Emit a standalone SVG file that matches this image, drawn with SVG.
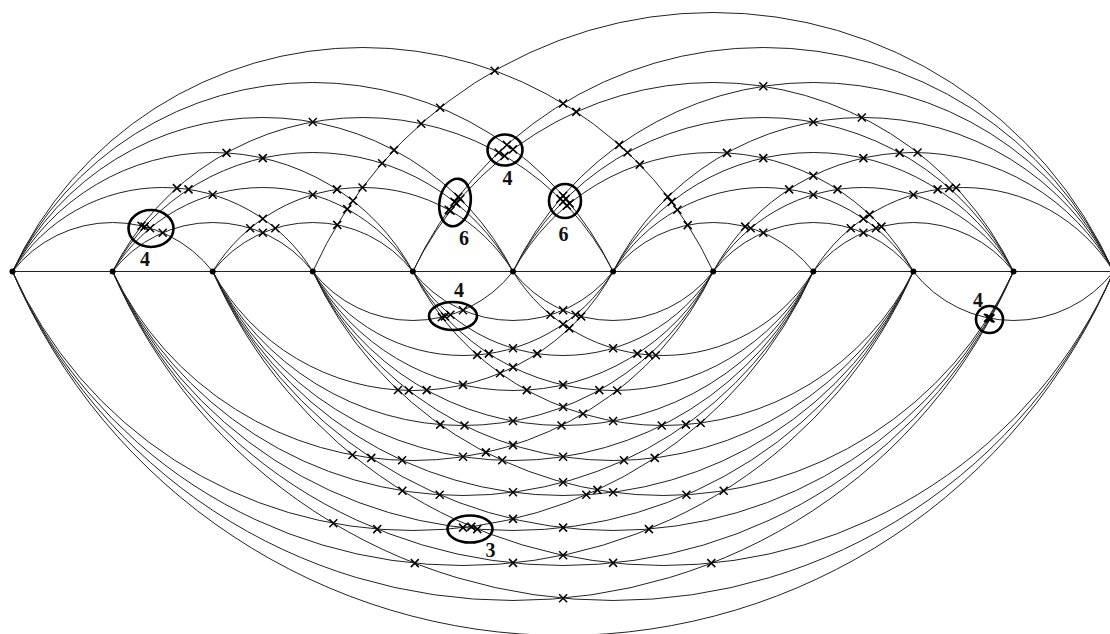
<svg xmlns="http://www.w3.org/2000/svg" xmlns:xlink="http://www.w3.org/1999/xlink" width="1110" height="634" viewBox="0 0 1110 634">
<style>
.e{fill:none;stroke:#222;stroke-width:1}
.v{fill:#000}
.ring{fill:none;stroke:#000;stroke-width:2.6}
.lbl{font-family:"Liberation Serif","Times New Roman",serif;font-weight:bold;font-size:20px;fill:#111;text-anchor:middle}
</style>
<defs>
<path id="m" d="M-4-4L4 4M-4 4L4-4" stroke="#000" stroke-width="1.5" fill="none"/>
</defs>
<rect width="1110" height="634" fill="#fff"/>
<g id="connectors">
<path class="e" d="M12.5 271.5H1113.6"/>
<g id="upper">
<path class="e" d="M12.5 271.5A126.75 126.75 0 0 1 212.7 271.5"/>
<path class="e" d="M12.5 271.5A176.2 176.2 0 0 1 312.8 271.5"/>
<path class="e" d="M12.5 271.5A227.91 227.91 0 0 1 412.9 271.5"/>
<path class="e" d="M12.5 271.5A280.33 280.33 0 0 1 513 271.5"/>
<path class="e" d="M12.5 271.5A333.07 333.07 0 0 1 613.1 271.5"/>
<path class="e" d="M12.5 271.5A385.99 385.99 0 0 1 713.2 271.5"/>
<path class="e" d="M112.6 271.5A126.75 126.75 0 0 1 312.8 271.5"/>
<path class="e" d="M112.6 271.5A176.2 176.2 0 0 1 412.9 271.5"/>
<path class="e" d="M112.6 271.5A227.91 227.91 0 0 1 513 271.5"/>
<path class="e" d="M112.6 271.5A280.33 280.33 0 0 1 613.1 271.5"/>
<path class="e" d="M212.7 271.5A126.75 126.75 0 0 1 412.9 271.5"/>
<path class="e" d="M212.7 271.5A176.2 176.2 0 0 1 513 271.5"/>
<path class="e" d="M312.8 271.5A439 439 0 0 1 1113.6 271.5"/>
<path class="e" d="M412.9 271.5A333.07 333.07 0 0 1 1013.5 271.5"/>
<path class="e" d="M412.9 271.5A385.99 385.99 0 0 1 1113.6 271.5"/>
<path class="e" d="M513 271.5A227.91 227.91 0 0 1 913.4 271.5"/>
<path class="e" d="M513 271.5A280.33 280.33 0 0 1 1013.5 271.5"/>
<path class="e" d="M513 271.5A333.07 333.07 0 0 1 1113.6 271.5"/>
<path class="e" d="M613.1 271.5A126.75 126.75 0 0 1 813.3 271.5"/>
<path class="e" d="M613.1 271.5A176.2 176.2 0 0 1 913.4 271.5"/>
<path class="e" d="M613.1 271.5A227.91 227.91 0 0 1 1013.5 271.5"/>
<path class="e" d="M613.1 271.5A280.33 280.33 0 0 1 1113.6 271.5"/>
<path class="e" d="M713.2 271.5A126.75 126.75 0 0 1 913.4 271.5"/>
<path class="e" d="M713.2 271.5A176.2 176.2 0 0 1 1013.5 271.5"/>
<path class="e" d="M713.2 271.5A227.91 227.91 0 0 1 1113.6 271.5"/>
<path class="e" d="M813.3 271.5A126.75 126.75 0 0 1 1013.5 271.5"/>
<path class="e" d="M813.3 271.5A176.2 176.2 0 0 1 1113.6 271.5"/>
</g>
<g id="lower">
<path class="e" d="M12.5 271.5A439 439 0 0 0 813.3 271.5"/>
<path class="e" d="M12.5 271.5A492.07 492.07 0 0 0 913.4 271.5"/>
<path class="e" d="M12.5 271.5A545.2 545.2 0 0 0 1013.5 271.5"/>
<path class="e" d="M12.5 271.5A598.36 598.36 0 0 0 1113.6 271.5"/>
<path class="e" d="M112.6 271.5A333.07 333.07 0 0 0 713.2 271.5"/>
<path class="e" d="M112.6 271.5A385.99 385.99 0 0 0 813.3 271.5"/>
<path class="e" d="M112.6 271.5A439 439 0 0 0 913.4 271.5"/>
<path class="e" d="M112.6 271.5A492.07 492.07 0 0 0 1013.5 271.5"/>
<path class="e" d="M112.6 271.5A545.2 545.2 0 0 0 1113.6 271.5"/>
<path class="e" d="M212.7 271.5A227.91 227.91 0 0 0 613.1 271.5"/>
<path class="e" d="M212.7 271.5A280.33 280.33 0 0 0 713.2 271.5"/>
<path class="e" d="M212.7 271.5A333.07 333.07 0 0 0 813.3 271.5"/>
<path class="e" d="M212.7 271.5A385.99 385.99 0 0 0 913.4 271.5"/>
<path class="e" d="M212.7 271.5A439 439 0 0 0 1013.5 271.5"/>
<path class="e" d="M212.7 271.5A492.07 492.07 0 0 0 1113.6 271.5"/>
<path class="e" d="M312.8 271.5A126.75 126.75 0 0 0 513 271.5"/>
<path class="e" d="M312.8 271.5A176.2 176.2 0 0 0 613.1 271.5"/>
<path class="e" d="M312.8 271.5A227.91 227.91 0 0 0 713.2 271.5"/>
<path class="e" d="M312.8 271.5A280.33 280.33 0 0 0 813.3 271.5"/>
<path class="e" d="M312.8 271.5A333.07 333.07 0 0 0 913.4 271.5"/>
<path class="e" d="M312.8 271.5A385.99 385.99 0 0 0 1013.5 271.5"/>
<path class="e" d="M412.9 271.5A126.75 126.75 0 0 0 613.1 271.5"/>
<path class="e" d="M412.9 271.5A176.2 176.2 0 0 0 713.2 271.5"/>
<path class="e" d="M412.9 271.5A227.91 227.91 0 0 0 813.3 271.5"/>
<path class="e" d="M412.9 271.5A280.33 280.33 0 0 0 913.4 271.5"/>
<path class="e" d="M513 271.5A126.75 126.75 0 0 0 713.2 271.5"/>
<path class="e" d="M513 271.5A176.2 176.2 0 0 0 813.3 271.5"/>
<path class="e" d="M913.4 271.5A126.75 126.75 0 0 0 1113.6 271.5"/>
</g>
</g>
<g id="crossings">
<use href="#m" x="162.7" y="232.8"/><use href="#m" x="150.1" y="228.2"/><use href="#m" x="144.6" y="226.6"/><use href="#m" x="141.5" y="225.8"/>
<use href="#m" x="212.7" y="194.8"/><use href="#m" x="188.5" y="189.4"/><use href="#m" x="176.9" y="188.1"/><use href="#m" x="275.3" y="228.2"/><use href="#m" x="262.8" y="218.7"/>
<use href="#m" x="262.8" y="158.1"/><use href="#m" x="226.5" y="152.9"/><use href="#m" x="337" y="189.4"/><use href="#m" x="352.9" y="200.7"/>
<use href="#m" x="312.8" y="122"/><use href="#m" x="394" y="150.1"/><use href="#m" x="460.2" y="198.9"/><use href="#m" x="458.3" y="196.9"/>
<use href="#m" x="440.1" y="107.8"/><use href="#m" x="513" y="149.4"/><use href="#m" x="506.9" y="144.9"/><use href="#m" x="569.6" y="203.4"/><use href="#m" x="565.8" y="198.9"/><use href="#m" x="563.1" y="195.8"/>
<use href="#m" x="494.7" y="70.7"/><use href="#m" x="576.3" y="111.9"/><use href="#m" x="563.1" y="103.5"/><use href="#m" x="639.8" y="164.6"/><use href="#m" x="627.5" y="152.5"/><use href="#m" x="619.2" y="144.9"/><use href="#m" x="687.7" y="225.1"/><use href="#m" x="677.4" y="209.8"/><use href="#m" x="671.6" y="201.9"/><use href="#m" x="667.8" y="196.9"/>
<use href="#m" x="262.8" y="232.8"/><use href="#m" x="250.2" y="228.2"/>
<use href="#m" x="312.8" y="194.8"/><use href="#m" x="347.2" y="209.1"/>
<use href="#m" x="382.1" y="163.3"/><use href="#m" x="456.4" y="203.4"/><use href="#m" x="454.5" y="201.9"/>
<use href="#m" x="421.2" y="123.7"/><use href="#m" x="504.5" y="155.9"/><use href="#m" x="498.6" y="152.5"/><use href="#m" x="566.9" y="205.6"/><use href="#m" x="563.1" y="201.6"/><use href="#m" x="560.4" y="198.9"/>
<use href="#m" x="337.2" y="224.9"/>
<use href="#m" x="362.5" y="187.5"/><use href="#m" x="450.5" y="210.8"/><use href="#m" x="448.7" y="209.8"/>
<use href="#m" x="763.3" y="86.3"/><use href="#m" x="861.8" y="117.5"/><use href="#m" x="917.5" y="152.5"/><use href="#m" x="956.1" y="187.7"/>
<use href="#m" x="763.3" y="158.1"/><use href="#m" x="727" y="152.9"/><use href="#m" x="837.5" y="189.4"/><use href="#m" x="813.3" y="175.7"/><use href="#m" x="881.4" y="226.6"/><use href="#m" x="869.6" y="214.6"/>
<use href="#m" x="813.3" y="122"/><use href="#m" x="899.6" y="152.9"/><use href="#m" x="949.2" y="188.1"/>
<use href="#m" x="763.3" y="232.8"/><use href="#m" x="750.7" y="228.2"/><use href="#m" x="745.2" y="226.6"/>
<use href="#m" x="813.3" y="194.8"/><use href="#m" x="789.1" y="189.4"/><use href="#m" x="875.9" y="228.2"/><use href="#m" x="863.4" y="218.7"/>
<use href="#m" x="863.4" y="158.1"/><use href="#m" x="937.6" y="189.4"/>
<use href="#m" x="863.4" y="232.8"/><use href="#m" x="850.8" y="228.2"/>
<use href="#m" x="913.4" y="194.8"/>
<use href="#m" x="463" y="527.6"/><use href="#m" x="377.2" y="529.1"/><use href="#m" x="333.3" y="523.2"/><use href="#m" x="586.3" y="494.8"/><use href="#m" x="513" y="518.9"/><use href="#m" x="471.4" y="526.6"/><use href="#m" x="654.7" y="457.9"/><use href="#m" x="597.4" y="489.9"/><use href="#m" x="700.7" y="423"/>
<use href="#m" x="513" y="562.9"/><use href="#m" x="414.8" y="563.1"/><use href="#m" x="648.9" y="529.1"/><use href="#m" x="563.1" y="555.2"/><use href="#m" x="723.7" y="490.7"/>
<use href="#m" x="563.1" y="598.2"/><use href="#m" x="711.3" y="563.1"/><use href="#m" x="990.5" y="318.4"/>
<use href="#m" x="463" y="456.7"/><use href="#m" x="402.1" y="460.3"/><use href="#m" x="371.3" y="457.9"/><use href="#m" x="352.4" y="455"/><use href="#m" x="561.5" y="425.5"/><use href="#m" x="513" y="445.1"/><use href="#m" x="485.9" y="452.4"/><use href="#m" x="617.2" y="390.5"/><use href="#m" x="583" y="413.8"/><use href="#m" x="655.8" y="355.3"/>
<use href="#m" x="513" y="492.2"/><use href="#m" x="439.7" y="494.8"/><use href="#m" x="402.4" y="490.7"/><use href="#m" x="623.9" y="460.3"/><use href="#m" x="563.1" y="482.3"/><use href="#m" x="685.9" y="424.6"/>
<use href="#m" x="563.1" y="527.6"/><use href="#m" x="477.3" y="529.1"/><use href="#m" x="686.4" y="494.8"/>
<use href="#m" x="613.1" y="562.9"/><use href="#m" x="989.9" y="318.3"/>
<use href="#m" x="463" y="384.9"/><use href="#m" x="426.7" y="390.1"/><use href="#m" x="408.8" y="390.5"/><use href="#m" x="398" y="390"/><use href="#m" x="537.2" y="353.6"/><use href="#m" x="513" y="367.3"/><use href="#m" x="500.1" y="373.2"/><use href="#m" x="581.1" y="316.4"/><use href="#m" x="569.3" y="328.4"/>
<use href="#m" x="513" y="421"/><use href="#m" x="464.5" y="425.5"/><use href="#m" x="440.2" y="424.6"/><use href="#m" x="599.3" y="390.1"/><use href="#m" x="563.1" y="407"/><use href="#m" x="648.9" y="354.9"/>
<use href="#m" x="563.1" y="456.7"/><use href="#m" x="502.2" y="460.3"/><use href="#m" x="661.7" y="425.5"/>
<use href="#m" x="613.1" y="492.2"/>
<use href="#m" x="989.1" y="318.1"/>
<use href="#m" x="463" y="310.2"/><use href="#m" x="450.4" y="314.8"/><use href="#m" x="444.9" y="316.4"/><use href="#m" x="441.8" y="317.2"/>
<use href="#m" x="513" y="348.2"/><use href="#m" x="488.8" y="353.6"/><use href="#m" x="477.2" y="354.9"/><use href="#m" x="575.6" y="314.8"/><use href="#m" x="563.1" y="324.3"/>
<use href="#m" x="563.1" y="384.9"/><use href="#m" x="526.8" y="390.1"/><use href="#m" x="637.3" y="353.6"/>
<use href="#m" x="613.1" y="421"/>
<use href="#m" x="988" y="317.9"/>
<use href="#m" x="563.1" y="310.2"/><use href="#m" x="550.5" y="314.8"/>
<use href="#m" x="613.1" y="348.2"/>
</g>
<g id="clusters">
<ellipse class="ring" cx="151" cy="228.5" rx="22.5" ry="18.5"/>
<text class="lbl" x="145" y="266">4</text>
<ellipse class="ring" cx="505" cy="150" rx="17.5" ry="15.5"/>
<text class="lbl" x="507.5" y="185">4</text>
<ellipse class="ring" cx="455" cy="202.5" rx="15.5" ry="24" transform="rotate(10 455 202.5)"/>
<text class="lbl" x="464" y="245">6</text>
<ellipse class="ring" cx="565" cy="201" rx="16" ry="17"/>
<text class="lbl" x="563.5" y="241">6</text>
<ellipse class="ring" cx="453" cy="316" rx="24" ry="14"/>
<text class="lbl" x="459" y="297">4</text>
<ellipse class="ring" cx="470" cy="529" rx="22.5" ry="13.5"/>
<text class="lbl" x="490.5" y="556.5">3</text>
<ellipse class="ring" cx="989.5" cy="319.5" rx="13.5" ry="13.5"/>
<text class="lbl" x="978" y="306.5">4</text>
</g>
<g id="nodes">
<g id="v0"><circle class="v" cx="12.5" cy="271.5" r="3"/></g>
<g id="v1"><circle class="v" cx="112.6" cy="271.5" r="3"/></g>
<g id="v2"><circle class="v" cx="212.7" cy="271.5" r="3"/></g>
<g id="v3"><circle class="v" cx="312.8" cy="271.5" r="3"/></g>
<g id="v4"><circle class="v" cx="412.9" cy="271.5" r="3"/></g>
<g id="v5"><circle class="v" cx="513" cy="271.5" r="3"/></g>
<g id="v6"><circle class="v" cx="613.1" cy="271.5" r="3"/></g>
<g id="v7"><circle class="v" cx="713.2" cy="271.5" r="3"/></g>
<g id="v8"><circle class="v" cx="813.3" cy="271.5" r="3"/></g>
<g id="v9"><circle class="v" cx="913.4" cy="271.5" r="3"/></g>
<g id="v10"><circle class="v" cx="1013.5" cy="271.5" r="3"/></g>
<g id="v11"><circle class="v" cx="1113.6" cy="271.5" r="3"/></g>
</g>
</svg>
